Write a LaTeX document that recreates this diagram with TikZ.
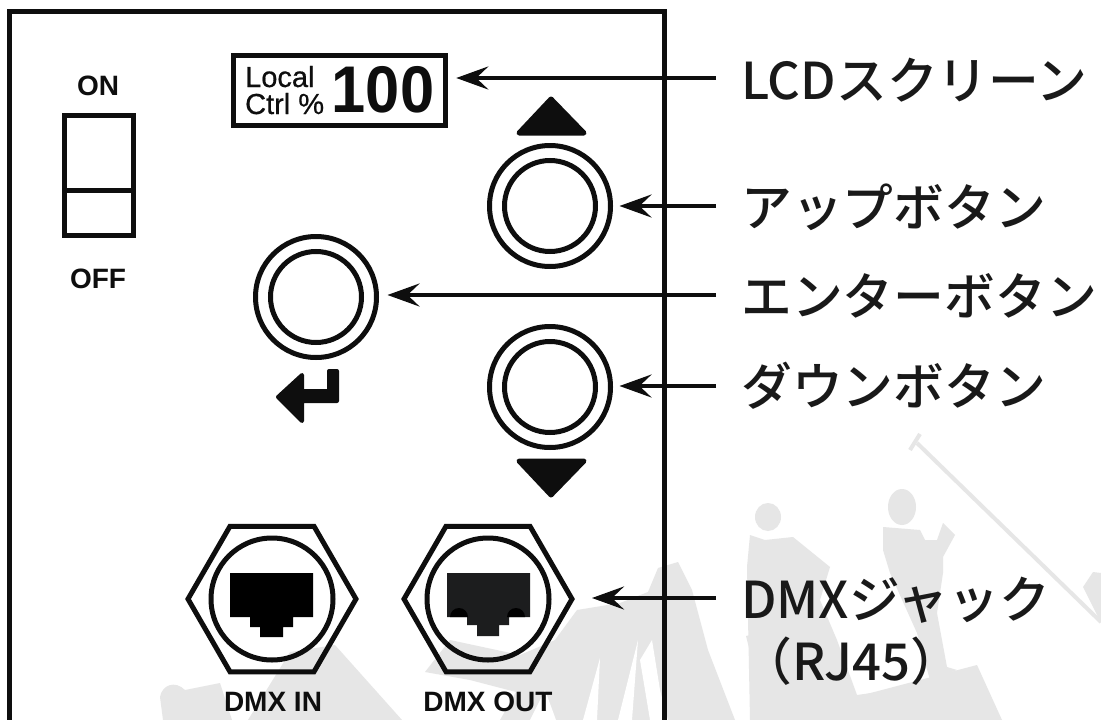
\documentclass[tikz,border=0pt]{standalone}
\usepackage{fontspec}
\usepackage{graphicx}
\setmainfont{Liberation Sans}
\newfontfamily\jpfont[UprightFont=* Medium]{Noto Sans CJK JP}
\newfontfamily\semifont[FakeBold=0.6]{Liberation Sans}
\usetikzlibrary{arrows.meta,shapes.geometric}
\definecolor{inkc}{HTML}{0E0E0E}
\definecolor{wmark}{HTML}{E6E6E6}
\definecolor{outjack}{HTML}{1C1D1E}
\tikzset{
  btnouter/.style={circle,draw=inkc,line width=5pt,minimum size=121pt,inner sep=0pt,outer sep=0pt},
  btninner/.style={circle,draw=inkc,line width=5pt,minimum size=91pt,inner sep=0pt,outer sep=0pt},
  hexnut/.style={regular polygon,regular polygon sides=6,draw=inkc,line width=5pt,minimum size=168pt,inner sep=0pt,outer sep=0pt},
  jackring/.style={circle,draw=inkc,line width=5pt,minimum size=122pt,inner sep=0pt,outer sep=0pt},
  panelline/.style={draw=inkc,line width=5pt},
  callout/.style={draw=inkc,line width=3.6pt,-{Stealth[length=32pt,width=23pt,inset=12pt]}},
  jplabel/.style={anchor=base west,inner sep=0pt,text=black!90,font=\jpfont\fontsize{50.8}{56}\selectfont},
  panelbold/.style={anchor=base,inner sep=0pt,text=inkc,font=\bfseries\fontsize{28}{30}\selectfont},
  lcdsmall/.style={anchor=base west,inner sep=0pt,text=inkc,font=\semifont\fontsize{29}{30}\selectfont},
  wm/.style={fill=wmark,draw=none},
  glyphfill/.style={fill=inkc,draw=inkc,line width=5pt,line join=round},
}
\begin{document}
\begin{tikzpicture}[x=1pt,y=-1pt]
\useasboundingbox (0,0) rectangle (1101,720);
\fill[white] (0,0) rectangle (1101,720);

% faint silhouettes behind the panel
\fill[wm] (163,720) -- (160,697) .. controls (162,685) and (175,680) .. (185,690) -- (220,683) -- (232,720) -- cycle;
\fill[wm] (290,652) -- (335,645) -- (402,720) -- (248,720) -- cycle;
\fill[wm] (577,610) -- (620,603) -- (648,592) -- (658,568) -- (678,562) -- (692,590) -- (708,650) -- (735,720) -- (500,720) -- (516,692) -- (470,680) -- (425,672) -- (450,640) -- (520,655) -- (555,640) -- cycle;
\fill[white] (650,720) -- (640,660) -- (652,640) -- (660,690) -- (668,720) -- cycle;
\fill[white] (583,720) -- (600,658) -- (597,720) -- cycle;
\fill[white] (618,720) -- (638,640) -- (632,720) -- cycle;
\fill[white] (530,720) -- (545,690) -- (556,720) -- cycle;
\fill[wm] (747,567) -- (750,535) -- (765,540) -- (793,537) -- (830,567) -- (820,600) -- (837,640) -- (857,695) -- (893,690) -- (900,720) -- (750,720) -- cycle;
\fill[wm] (768,517) circle[x radius=13pt,y radius=14pt];
\fill[wm] (746,636) -- (775,630) -- (818,705) -- (822,720) -- (767,720) -- cycle;
\fill[wm] (902,507) circle[x radius=14pt,y radius=18pt];
\fill[wm] (883,527) -- (920,530) -- (925,540) -- (937,540) -- (943,523) -- (955,535) -- (943,557) -- (943,573) -- (937,613) -- (947,667) -- (957,670) -- (930,680) -- (917,633) -- (890,573) -- (883,550) -- cycle;
\fill[wm] (863,695) -- (977,665) -- (1002,720) -- (823,720) -- cycle;
\draw[wmark,line width=4pt] (917,443) -- (1101,622);
\draw[wmark,line width=4pt] (910,450) -- (920,434);
\fill[wm] (1083,587) -- (1093,572) -- (1101,573) -- (1101,623) -- (1093,607) -- cycle;

% panel outline
\draw[panelline] (9,720) -- (9,11) -- (664,11) -- (664,720);

% power switch
\node[panelbold] (onlbl) at (98,95) {ON};
\node[panelbold] (offlbl) at (98,288) {OFF};
\draw[panelline,fill=white] (64,115) rectangle (133,235);
\draw[inkc,line width=5pt] (64,190) -- (133,190);

% LCD
\node[draw=inkc,line width=5pt,minimum width=211.5pt,minimum height=69.5pt,inner sep=0pt,outer sep=0pt] (lcdbox) at (339.5,90.5) {};
\node[lcdsmall] (lcdl1) at (245,87) {Local};
\node[lcdsmall] (lcdl2) at (245,114) {Ctrl \%};
\node[anchor=base,inner sep=0pt,text=inkc,font=\bfseries\fontsize{66}{68}\selectfont] (lcdval) at (383,112) {\scalebox{0.93}[1]{100}};

% up/down/enter glyphs
\path[glyphfill] (551,99) -- (584,133) -- (519,133) -- cycle;
\path[glyphfill] (551,495) -- (584,461) -- (519,461) -- cycle;
\path[fill=inkc,draw=inkc,line width=4pt,line join=round] (278,397) -- (302,375) -- (302,391) -- (329,391) -- (329,371) -- (337,371) -- (337,401) -- (302,401) -- (302,421) -- cycle;

% buttons
\node[btnouter] (upbtn) at (550,206) {};
\node[btninner] (upinner) at (550,206) {};
\node[btnouter] (enterbtn) at (316,297) {};
\node[btninner] (enterinner) at (316,297) {};
\node[btnouter] (downbtn) at (550,387) {};
\node[btninner] (downinner) at (550,387) {};

% DMX jacks
\node[hexnut] (dmxin) at (272,599) {};
\node[jackring] (inring) at (272,599) {};
\node[hexnut] (dmxout) at (488,599) {};
\node[jackring] (outring) at (488,599) {};
\fill[black] (230,573) -- (313,573) -- (313,617) -- (293,617) -- (293,627) -- (283,627) -- (283,637) -- (260,637) -- (260,627) -- (250,627) -- (250,617) -- (230,617) -- cycle;
\fill[outjack] (447,573) -- (530,573) -- (530,617) -- (509,617) -- (509,625) -- (499,625) -- (499,636) -- (477,636) -- (477,625) -- (467,625) -- (467,617) -- (447,617) -- cycle;
\fill[black] (450,617) arc[start angle=180,end angle=0,radius=9pt] -- cycle;
\fill[black] (507,617) arc[start angle=180,end angle=0,radius=9pt] -- cycle;
\node[panelbold] (inlbl) at (273,711) {DMX IN};
\node[panelbold] (outlbl) at (488,711) {DMX OUT};

% labels
\node[jplabel] (lbllcd) at (741,99) {LCDスクリーン};
\node[jplabel] (lblup) at (741,226) {アップボタン};
\node[jplabel] (lblenter) at (741,315) {エンターボタン};
\node[jplabel] (lbldown) at (741,405) {ダウンボタン};
\node[jplabel] (lbldmx) at (741,618) {DMXジャック};
\node[jplabel] (lblrj) at (741,680) {（RJ45）};

% callouts
\coordinate (lcdend) at (716,78);
\coordinate (upend) at (716,206);
\coordinate (enterend) at (716,295);
\coordinate (downend) at (716,386);
\coordinate (dmxend) at (716,598);
\draw[callout,line width=4.5pt,shorten >=11pt] (lcdend) -- (lcdend -| lcdbox.east);
\draw[callout,shorten >=9pt] (upend) -- (upend -| upbtn.east);
\draw[callout,shorten >=11pt] (enterend) -- (enterend -| enterbtn.east);
\draw[callout,shorten >=9pt] (downend) -- (downend -| downbtn.east);
\draw[callout,shorten >=20pt] (dmxend) -- (dmxend -| dmxout.east);
\end{tikzpicture}
\end{document}
